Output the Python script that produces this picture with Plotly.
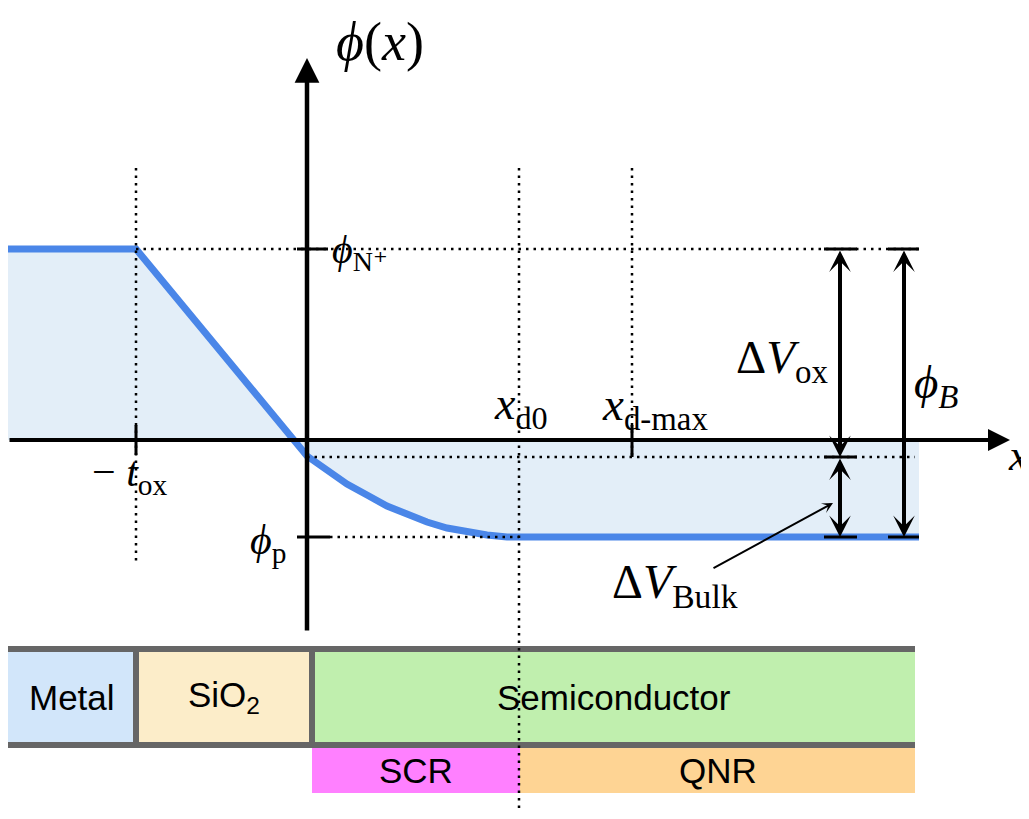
import plotly.graph_objects as go

# ---------------- data (1 unit = 1 px of the drawing; origin at axes crossing) -------------
# potential profile phi(x)
x_pos = [-299, -171, 0, 20, 40, 60, 80, 100, 120, 140, 160, 180, 200, 212, 612]
phi = [191, 191, -16, -31, -44, -55, -66, -74, -82, -88, -92, -95, -97, -97, -97]

phi_N = 191        # phi_N+
phi_s = -17        # surface potential level
phi_p = -97        # phi_p
t_ox = 171
x_d0 = 212
x_dmax = 325
x_end = 612

layer_names = ["Metal", "SiO<sub>2</sub>", "Semiconductor"]
layer_edges = [-299, -171, 5, 608]
layer_colors = ["#d2e6fa", "#fcedc9", "#c0efae"]

region_names = ["SCR", "QNR"]
region_edges = [5, 213, 608]
region_colors = ["#ff80ff", "#fed494"]

# ---------------- styles ----------------
BLUE = "#4a86e8"
FILL = "#e3eef8"
GRAY = "#666666"
MATH = "Liberation Serif, DejaVu Serif, serif"
SANS = "Liberation Sans, Arial, sans-serif"
DOT = "2.5px,5px"

fig = go.Figure()
fig.add_trace(go.Scatter(x=x_pos, y=phi, mode="lines", fill="tozeroy",
                         fillcolor=FILL, line=dict(color=BLUE, width=7),
                         hoverinfo="skip", showlegend=False))

shapes = []
# layer blocks
bar_top, box_top, box_bot, bar_bot, reg_bot = -206, -212, -302, -308, -353
for i, c in enumerate(layer_colors):
    shapes.append(dict(type="rect", x0=layer_edges[i], x1=layer_edges[i + 1], y0=box_bot, y1=box_top,
                       fillcolor=c, line=dict(width=0), layer="above"))
for i, c in enumerate(region_colors):
    shapes.append(dict(type="rect", x0=region_edges[i], x1=region_edges[i + 1], y0=reg_bot, y1=bar_bot,
                       fillcolor=c, line=dict(width=0), layer="above"))
shapes.append(dict(type="rect", x0=layer_edges[0], x1=layer_edges[-1], y0=box_top, y1=bar_top,
                   fillcolor=GRAY, line=dict(width=0), layer="above"))
shapes.append(dict(type="rect", x0=layer_edges[0], x1=layer_edges[-1], y0=bar_bot, y1=box_bot,
                   fillcolor=GRAY, line=dict(width=0), layer="above"))
for e in layer_edges[1:-1]:
    shapes.append(dict(type="rect", x0=e - 3, x1=e + 3, y0=box_bot, y1=box_top,
                       fillcolor=GRAY, line=dict(width=0), layer="above"))


def dotted(x0, y0, x1, y1):
    shapes.append(dict(type="line", x0=x0, y0=y0, x1=x1, y1=y1, layer="above",
                       line=dict(color="black", width=2.5, dash=DOT)))


def solid(x0, y0, x1, y1, w=3):
    shapes.append(dict(type="line", x0=x0, y0=y0, x1=x1, y1=y1, layer="above",
                       line=dict(color="black", width=w)))


# dotted guides
dotted(-t_ox, 272, -t_ox, -122)
dotted(x_d0, 272, x_d0, -379)
dotted(x_dmax, 272, x_dmax, phi_s)
dotted(-t_ox, phi_N, x_end, phi_N)
dotted(0, phi_s, x_end - 4, phi_s)
dotted(23, phi_p, x_d0, phi_p)

# ticks
solid(-10, phi_N, 21, phi_N)
solid(-10, phi_p, 23, phi_p)
solid(-t_ox, 15, -t_ox, -15)
solid(x_dmax, 15, x_dmax, phi_s)

# dimension caps
xa, xb = 533, 597
for yy in (phi_N, phi_s, phi_p):
    solid(xa - 16, yy, xa + 17, yy)
for yy in (phi_N, phi_p):
    solid(xb - 16, yy, xb + 15, yy)

annotations = []


def arrow(x0, y0, x1, y1, w=4, head=2, size=1.1, both=False):
    d = dict(x=x1, y=y1, ax=x0, ay=y0, xref="x", yref="y", axref="x", ayref="y",
             text="", showarrow=True, arrowhead=head, arrowsize=size, arrowwidth=w,
             arrowcolor="black", standoff=0, startstandoff=0)
    if both:
        d.update(arrowside="end+start", startarrowhead=head, startarrowsize=size)
    annotations.append(d)


# axes
arrow(-299, 0, 703, 0, w=4, head=2, size=1.1)
arrow(0, -192, 0, 382, w=4.5, head=2, size=1.1)
# dimension arrows
arrow(xa, phi_N, xa, phi_s, w=4, head=3, size=0.9, both=True)
arrow(xa, phi_s, xa, phi_p, w=4, head=3, size=0.9, both=True)
arrow(xb, phi_N, xb, phi_p, w=4, head=3, size=0.9, both=True)
# pointer for Delta V_Bulk
arrow(405, -129, 526, -63, w=2, head=3, size=0.9)


def label(txt, x, y, size=42, xanchor="center", family=MATH):
    annotations.append(dict(x=x, y=y, xref="x", yref="y", text=txt, showarrow=False,
                            xanchor=xanchor, yanchor="middle",
                            font=dict(family=family, size=size, color="black")))


label("<i>ϕ</i>(<i>x</i>)", 73, 398, size=54)
label("<i>ϕ</i><sub>N⁺</sub>", 23, 188, size=40, xanchor="left")
label("− <i>t</i><sub>ox</sub>", -217, -35, size=42, xanchor="left")
label("<i>ϕ</i><sub>p</sub>", -19, -103, size=42, xanchor="right")
label("<i>x</i><sub>d0</sub>", 185, 33, size=46, xanchor="left")
label("<i>x</i><sub>d-max</sub>", 293, 33, size=47, xanchor="left")
label("Δ<i>V</i><sub>ox</sub>", 523, 80, size=47, xanchor="right")
label("<i>ϕ</i><sub><i>B</i></sub>", 605, 55, size=47, xanchor="left")
label("<i>x</i>", 699, -15, size=44, xanchor="left")
label("Δ<i>V</i><sub>Bulk</sub>", 303, -145, size=48, xanchor="left")

# block labels
box_mid = (box_top + box_bot) / 2
for i, n in enumerate(layer_names):
    label(n, (layer_edges[i] + layer_edges[i + 1]) / 2, box_mid, size=35, family=SANS)
reg_mid = (bar_bot + reg_bot) / 2
for i, n in enumerate(region_names):
    label(n, (region_edges[i] + region_edges[i + 1]) / 2, reg_mid, size=35, family=SANS)

# page body has an 8 px margin, so the figure covers the window from px 8 onward
fig.update_layout(
    width=1021, height=803, autosize=False,
    margin=dict(l=0, r=0, t=0, b=0),
    paper_bgcolor="white", plot_bgcolor="white",
    xaxis=dict(range=[-299, 722], visible=False, fixedrange=True),
    yaxis=dict(range=[-371, 432], visible=False, fixedrange=True),
    shapes=shapes, annotations=annotations, showlegend=False,
)

fig.write_html("out.html")
